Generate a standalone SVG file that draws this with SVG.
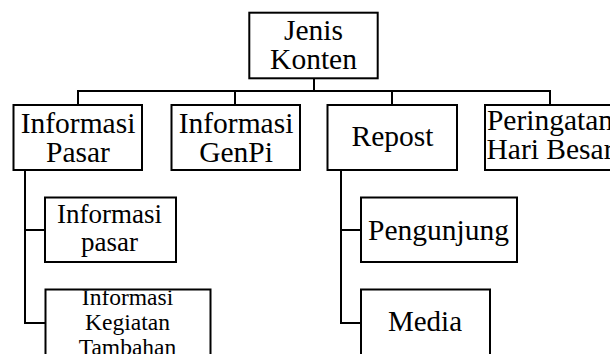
<svg xmlns="http://www.w3.org/2000/svg" width="610" height="354" viewBox="0 0 610 354">
<style>
.box{fill:#fff;stroke:#000;stroke-width:2}
.ln{fill:none;stroke:#000;stroke-width:2}
</style>
<defs>
<clipPath id="clipK"><rect x="46.5" y="290.5" width="163" height="70"/></clipPath>
</defs>
<rect width="610" height="354" fill="#fff"/>
<g id="connectors">
<path class="ln" d="M314,79 V91 M78,91 H550 M78,90 V105 M235,90 V105 M392,90 V105 M550,90 V105"/>
<path class="ln" d="M25,171 V323 M24,230 H45 M24,323 H46"/>
<path class="ln" d="M341,171 V323 M340,230 H361 M340,323 H361"/>
</g>
<g id="root">
<rect class="box" x="249.3" y="12.7" width="128.4" height="65.6"/>
<text x="313.5" y="39.5" font-size="29.5" font-family="Liberation Serif" text-anchor="middle">Jenis</text>
<text x="313.5" y="68.5" font-size="29.5" font-family="Liberation Serif" text-anchor="middle">Konten</text>
</g>
<g id="informasi-pasar">
<rect class="box" x="13.5" y="105" width="128.5" height="65"/>
<text x="78" y="133" font-size="29.5" font-family="Liberation Serif" text-anchor="middle">Informasi</text>
<text x="78" y="161.5" font-size="29.5" font-family="Liberation Serif" text-anchor="middle">Pasar</text>
</g>
<g id="informasi-genpi">
<rect class="box" x="171.5" y="105" width="128.5" height="65"/>
<text x="236" y="133" font-size="29.5" font-family="Liberation Serif" text-anchor="middle">Informasi</text>
<text x="236" y="161.5" font-size="29.5" font-family="Liberation Serif" text-anchor="middle">GenPi</text>
</g>
<g id="repost">
<rect class="box" x="327.5" y="105" width="129.5" height="65"/>
<text x="392.5" y="146" font-size="29.5" font-family="Liberation Serif" text-anchor="middle">Repost</text>
</g>
<g id="peringatan">
<rect class="box" x="485" y="105" width="135" height="65"/>
<text x="550" y="130" font-size="29.5" font-family="Liberation Serif" text-anchor="middle">Peringatan</text>
<text x="550" y="158.5" font-size="29.5" font-family="Liberation Serif" text-anchor="middle">Hari Besar</text>
</g>
<g id="informasi-pasar-2">
<rect class="box" x="45" y="197.5" width="131" height="64.5"/>
<text x="109.5" y="223" font-size="27" font-family="Liberation Serif" text-anchor="middle">Informasi</text>
<text x="109.5" y="251" font-size="27" font-family="Liberation Serif" text-anchor="middle">pasar</text>
</g>
<g id="informasi-kegiatan">
<rect class="box" x="45.5" y="289.5" width="165" height="66"/>
<g clip-path="url(#clipK)">
<text x="127.5" y="305" font-size="23.5" font-family="Liberation Serif" text-anchor="middle">Informasi</text>
<text x="127.5" y="330" font-size="23.5" font-family="Liberation Serif" text-anchor="middle">Kegiatan</text>
<text x="127.5" y="355" font-size="23.5" font-family="Liberation Serif" text-anchor="middle">Tambahan</text>
</g>
</g>
<g id="pengunjung">
<rect class="box" x="361" y="197.5" width="156" height="64.5"/>
<text x="438.5" y="240" font-size="29.5" font-family="Liberation Serif" text-anchor="middle">Pengunjung</text>
</g>
<g id="media">
<rect class="box" x="361" y="289.5" width="129" height="66"/>
<text x="425" y="331" font-size="29" font-family="Liberation Serif" text-anchor="middle">Media</text>
</g>
</svg>
